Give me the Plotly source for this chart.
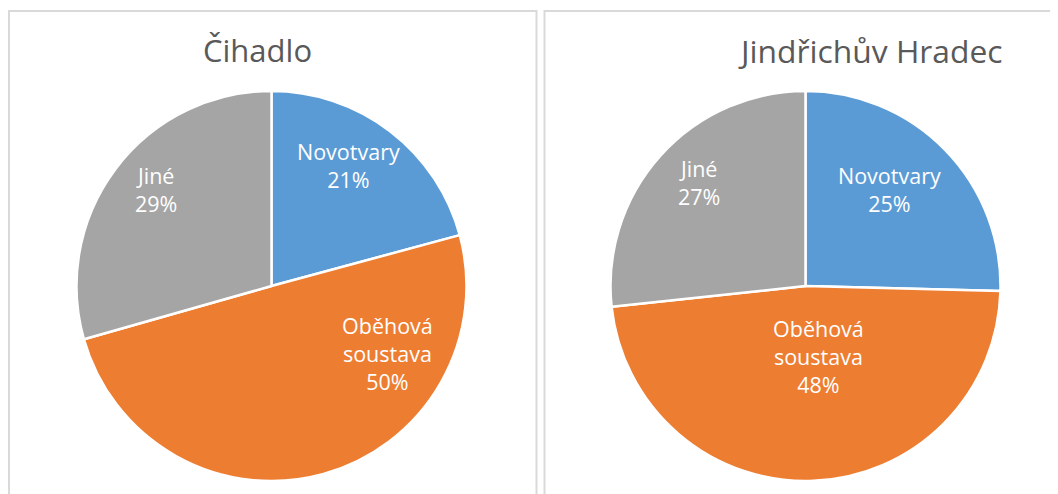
import plotly.graph_objects as go

categories = ["Novotvary", "Oběhová soustava", "Jiné"]
cihadlo_values = [20.8, 49.8, 29.4]
jh_values = [25.4, 47.9, 26.7]
titles = ["Čihadlo", "Jindřichův Hradec"]
colors = ["#5b9bd5", "#ed7d31", "#a5a5a5"]

# layout (page offset of 8px body margin accounted for)
W, H = 1050, 486
OFF = 8
pie_centers = [(271.5, 286), (805.5, 286)]
pie_radius = 195
title_pos = [(257.5, 50), (870.5, 50)]
title_sizes = [31, 31.8]
label_pos = [
    [(348, 166), (387, 353), (156, 189)],
    [(889, 190), (818, 356), (699, 182)],
]

def px(x):
    return (x - OFF) / W

def py(y):
    return (H - (y - OFF)) / H

def pie(values, cx, cy, r):
    return go.Pie(
        labels=categories, values=values, textinfo="none",
        marker=dict(colors=colors, line=dict(color="white", width=2.5)),
        sort=False, direction="clockwise", rotation=0, showlegend=False,
        hoverinfo="label+percent",
        domain=dict(x=[px(cx - r), px(cx + r)], y=[py(cy + r), py(cy - r)]),
    )

fig = go.Figure()
all_values = [cihadlo_values, jh_values]
for i, vals in enumerate(all_values):
    cx, cy = pie_centers[i]
    fig.add_trace(pie(vals, cx, cy, pie_radius))
    total = sum(vals)
    for j, (cat, v) in enumerate(zip(categories, vals)):
        lx, ly = label_pos[i][j]
        fig.add_annotation(text=cat.replace(" ", "<br>") + "<br>" + f"{round(100 * v / total)}%",
                           x=px(lx), y=py(ly), xref="paper", yref="paper",
                           xanchor="center", yanchor="middle", showarrow=False,
                           font=dict(family="Open Sans", size=21.5, color="white"))

for (x, y), t, s in zip(title_pos, titles, title_sizes):
    fig.add_annotation(text=t, x=px(x), y=py(y), xref="paper", yref="paper",
                       xanchor="center", yanchor="middle", showarrow=False,
                       font=dict(family="Open Sans", size=s, color="#595959"))

border = dict(color="#d9d9d9", width=2)
fig.add_shape(type="rect", xref="paper", yref="paper", x0=px(9), x1=px(536.5),
              y0=-0.05, y1=py(11), line=border)
fig.add_shape(type="rect", xref="paper", yref="paper", x0=px(544.5), x1=1.05,
              y0=-0.05, y1=py(11), line=border)

fig.update_layout(width=W, height=H, margin=dict(l=0, r=0, t=0, b=0),
                  paper_bgcolor="white", plot_bgcolor="white")
fig.write_html("out.html")
